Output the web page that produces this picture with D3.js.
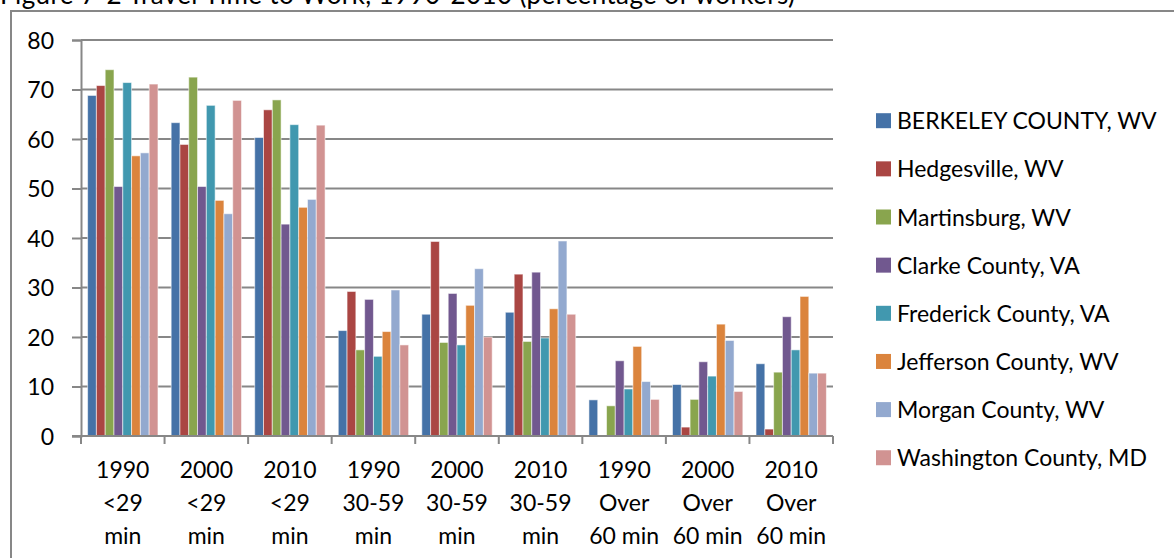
<!DOCTYPE html>
<html>
<head>
<meta charset="utf-8">
<script src="https://cdn.jsdelivr.net/npm/d3@7"></script>
<style>
  html, body { margin: 0; padding: 0; background: #fff; }
  svg { display: block; font-family: Lato, "Noto Sans", sans-serif; }
</style>
</head>
<body>
<svg id="chart" width="1174" height="558"></svg>
<script>
// Travel time to work by jurisdiction, share of workers (%)
const categoryLines = [
  ["1990", "<29", "min"],
  ["2000", "<29", "min"],
  ["2010", "<29", "min"],
  ["1990", "30-59", "min"],
  ["2000", "30-59", "min"],
  ["2010", "30-59", "min"],
  ["1990", "Over", "60 min"],
  ["2000", "Over", "60 min"],
  ["2010", "Over", "60 min"]
];
const seriesNames = [
  "BERKELEY COUNTY, WV",
  "Hedgesville, WV",
  "Martinsburg, WV",
  "Clarke County, VA",
  "Frederick County, VA",
  "Jefferson County, WV",
  "Morgan County, WV",
  "Washington County, MD"
];
const berkeley   = [68.8, 63.3, 60.3, 21.3, 24.6, 25.0, 7.3, 10.4, 14.6];
const hedgesville = [70.8, 58.9, 65.9, 29.2, 39.3, 32.7, 0, 1.8, 1.4];
const martinsburg = [74.0, 72.5, 67.9, 17.4, 18.9, 19.1, 6.1, 7.4, 12.9];
const clarke     = [50.4, 50.4, 42.8, 27.6, 28.8, 33.1, 15.2, 15.0, 24.1];
const frederick  = [71.4, 66.8, 62.9, 16.1, 18.4, 19.8, 9.5, 12.1, 17.4];
const jefferson  = [56.6, 47.6, 46.2, 21.1, 26.4, 25.7, 18.1, 22.6, 28.2];
const morgan     = [57.2, 44.9, 47.8, 29.5, 33.8, 39.4, 11.0, 19.3, 12.7];
const washington = [71.1, 67.8, 62.8, 18.4, 20.0, 24.6, 7.4, 9.0, 12.7];
const yTicks = [0, 10, 20, 30, 40, 50, 60, 70, 80];
const titleText = "Figure 7-2 Travel Time to Work, 1990-2010 (percentage of workers)";

const seriesValues = [berkeley, hedgesville, martinsburg, clarke, frederick, jefferson, morgan, washington];
const colors = ["#4572A7", "#AA4643", "#89A54E", "#71588F", "#4198AF", "#DB843D", "#93A9CF", "#D19392"];

const svg = d3.select("#chart");
const gridColor = "#878787";
const fontSize = 23;

// plot region
const plotLeft = 81, plotRight = 833, plotTop = 40, plotBottom = 436;

const x = d3.scaleBand().domain(d3.range(categoryLines.length)).range([plotLeft, plotRight]).padding(0);
const bw = x.bandwidth();
const barW = bw / 9.5;           // 150% gap width between groups
const inner = d3.scaleBand().domain(d3.range(seriesNames.length))
  .range([barW * 0.75, bw - barW * 0.75]).padding(0);
const y = d3.scaleLinear().domain([0, 80]).range([plotBottom, plotTop]);

// title (sits above the frame, its top runs off the page)
svg.append("text")
  .attr("x", 0).attr("y", 4)
  .attr("font-size", 26).attr("fill", "#000")
  .attr("textLength", 795).attr("lengthAdjust", "spacing")
  .text(titleText);

// outer chart frame
svg.append("path")
  .attr("d", "M11,558 L11,11 L1174,11")
  .attr("fill", "none").attr("stroke", gridColor).attr("stroke-width", 2);

// y axis with outward ticks
const yAxis = d3.axisLeft(y).tickValues(yTicks).tickSize(9).tickPadding(18).tickFormat(d3.format("d"));
const gY = svg.append("g").attr("transform", `translate(${plotLeft},0)`).call(yAxis);
gY.select(".domain").attr("stroke", gridColor).attr("stroke-width", 2);
gY.selectAll(".tick line").attr("stroke", gridColor).attr("stroke-width", 2);
gY.selectAll(".tick text").attr("font-size", fontSize).attr("fill", "#000")
  .attr("font-family", "Lato, 'Noto Sans', sans-serif").attr("dy", "0.36em");

// horizontal gridlines
svg.append("g").selectAll("line").data(yTicks.filter(d => d > 0)).join("line")
  .attr("x1", plotLeft).attr("x2", plotRight)
  .attr("y1", d => y(d)).attr("y2", d => y(d))
  .attr("stroke", gridColor).attr("stroke-width", 2);

// bars
const groups = svg.append("g").selectAll("g").data(seriesValues).join("g")
  .attr("fill", (d, i) => colors[i]);
groups.selectAll("rect")
  .data((vals, si) => vals.map((v, ci) => ({ v, ci, si })))
  .join("rect")
  .attr("x", d => x(d.ci) + inner(d.si))
  .attr("width", inner.bandwidth())
  .attr("y", d => y(d.v))
  .attr("height", d => y(0) - y(d.v))
  .attr("stroke", "rgba(255,255,255,0.55)")
  .attr("stroke-width", 1);

// x axis line with category separators
const bounds = d3.range(categoryLines.length + 1).map(i => plotLeft + i * bw);
svg.append("line").attr("x1", plotLeft - 9).attr("x2", plotRight)
  .attr("y1", plotBottom).attr("y2", plotBottom)
  .attr("stroke", gridColor).attr("stroke-width", 2);
svg.append("g").selectAll("line").data(bounds).join("line")
  .attr("x1", d => d).attr("x2", d => d)
  .attr("y1", plotBottom).attr("y2", plotBottom + 8)
  .attr("stroke", gridColor).attr("stroke-width", 2);

// category labels (three lines each)
const lab = svg.append("g").selectAll("text").data(categoryLines).join("text")
  .attr("text-anchor", "middle").attr("font-size", fontSize).attr("fill", "#000");
lab.selectAll("tspan").data((d, i) => d.map(t => ({ t, i }))).join("tspan")
  .attr("x", d => x(d.i) + bw / 2)
  .attr("y", (d, k) => 478 + k * 33)
  .text(d => d.t);

// legend
const legend = svg.append("g").selectAll("g").data(seriesNames).join("g")
  .attr("transform", (d, i) => `translate(876, ${120.7 + i * 48.15})`);
legend.append("rect")
  .attr("x", 0).attr("y", -7.5).attr("width", 15).attr("height", 15)
  .attr("fill", (d, i) => colors[i]);
legend.append("text")
  .attr("x", 21).attr("y", 8.5)
  .attr("font-size", fontSize).attr("fill", "#000")
  .text(d => d);
</script>
</body>
</html>
